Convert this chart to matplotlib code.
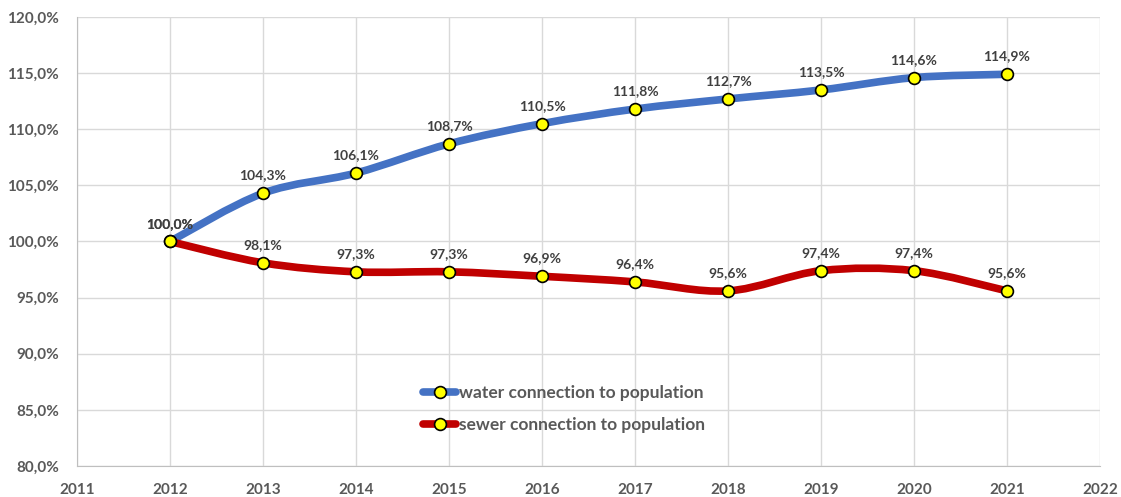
import matplotlib
matplotlib.use('Agg')
import matplotlib.pyplot as plt
from matplotlib.path import Path
from matplotlib.patches import PathPatch
from matplotlib.lines import Line2D
from matplotlib.ticker import FuncFormatter, MultipleLocator

years = [2012, 2013, 2014, 2015, 2016, 2017, 2018, 2019, 2020, 2021]
water = [100.0, 104.3, 106.1, 108.7, 110.5, 111.8, 112.7, 113.5, 114.6, 114.9]
sewer = [100.0, 98.1, 97.3, 97.3, 96.9, 96.4, 95.6, 97.4, 97.4, 95.6]
names = ['water connection to population', 'sewer connection to population']
colors = ['#4472C4', '#C00000']

plt.rcParams['font.family'] = ['Lato', 'DejaVu Sans']

fig = plt.figure(figsize=(11.21, 4.97), dpi=100)
ax = fig.add_axes([77 / 1121, 1 - 466 / 497, (1100 - 77) / 1121, (466 - 17) / 497])


def smooth_path(xs, ys):
    # Excel-like smoothed line: Catmull-Rom converted to cubic Bezier
    verts = [(xs[0], ys[0])]
    codes = [Path.MOVETO]
    n = len(xs)
    for i in range(n - 1):
        x0, y0 = (xs[i - 1], ys[i - 1]) if i > 0 else (xs[i], ys[i])
        x1, y1 = xs[i], ys[i]
        x2, y2 = xs[i + 1], ys[i + 1]
        x3, y3 = (xs[i + 2], ys[i + 2]) if i + 2 < n else (x2, y2)
        c1 = (x1 + (x2 - x0) / 6, y1 + (y2 - y0) / 6)
        c2 = (x2 - (x3 - x1) / 6, y2 - (y3 - y1) / 6)
        verts += [c1, c2, (x2, y2)]
        codes += [Path.CURVE4] * 3
    return Path(verts, codes)


for vals, col in zip([water, sewer], colors):
    ax.add_patch(PathPatch(smooth_path(years, vals), facecolor='none',
                           edgecolor=col, lw=5.5, capstyle='round', zorder=3))
    ax.plot(years, vals, ls='none', marker='o', ms=8.5, mfc='#FFFF00',
            mec='black', mew=1.2, zorder=4)
    for x, v in zip(years, vals):
        ax.annotate(f'{v:.1f}%'.replace('.', ','), (x, v), xytext=(0, 8.5),
                    textcoords='offset points', ha='center', va='bottom',
                    fontsize=10, fontweight='bold', color='#404040')

ax.set_xlim(2011, 2022)
ax.set_ylim(80, 120)
ax.xaxis.set_major_locator(MultipleLocator(1))
ax.yaxis.set_major_locator(MultipleLocator(5))
ax.yaxis.set_major_formatter(FuncFormatter(lambda v, p: f'{v:.1f}%'.replace('.', ',')))
ax.grid(True, color='#D9D9D9', lw=1)
ax.set_axisbelow(True)
for s in ['top', 'right']:
    ax.spines[s].set_visible(False)
for s in ['left', 'bottom']:
    ax.spines[s].set_color('#BFBFBF')
ax.tick_params(length=0, labelsize=11, labelcolor='#595959')
ax.tick_params(axis='y', pad=13)
ax.tick_params(axis='x', pad=12)
for lab in ax.get_xticklabels() + ax.get_yticklabels():
    lab.set_fontweight('bold')

handles = [Line2D([], [], color=c, lw=5.5, marker='o', ms=8.5, mfc='#FFFF00',
                  mec='black', mew=1.2, solid_capstyle='round') for c in colors]
leg = ax.legend(handles, names, loc='upper left', bbox_to_anchor=(0.323, 0.215),
                frameon=False, handlelength=1.9, handletextpad=0.15,
                labelspacing=0.9, prop={'size': 12.5, 'weight': 'bold'})
for t in leg.get_texts():
    t.set_color('#595959')

fig.savefig('out.png', dpi=100)
